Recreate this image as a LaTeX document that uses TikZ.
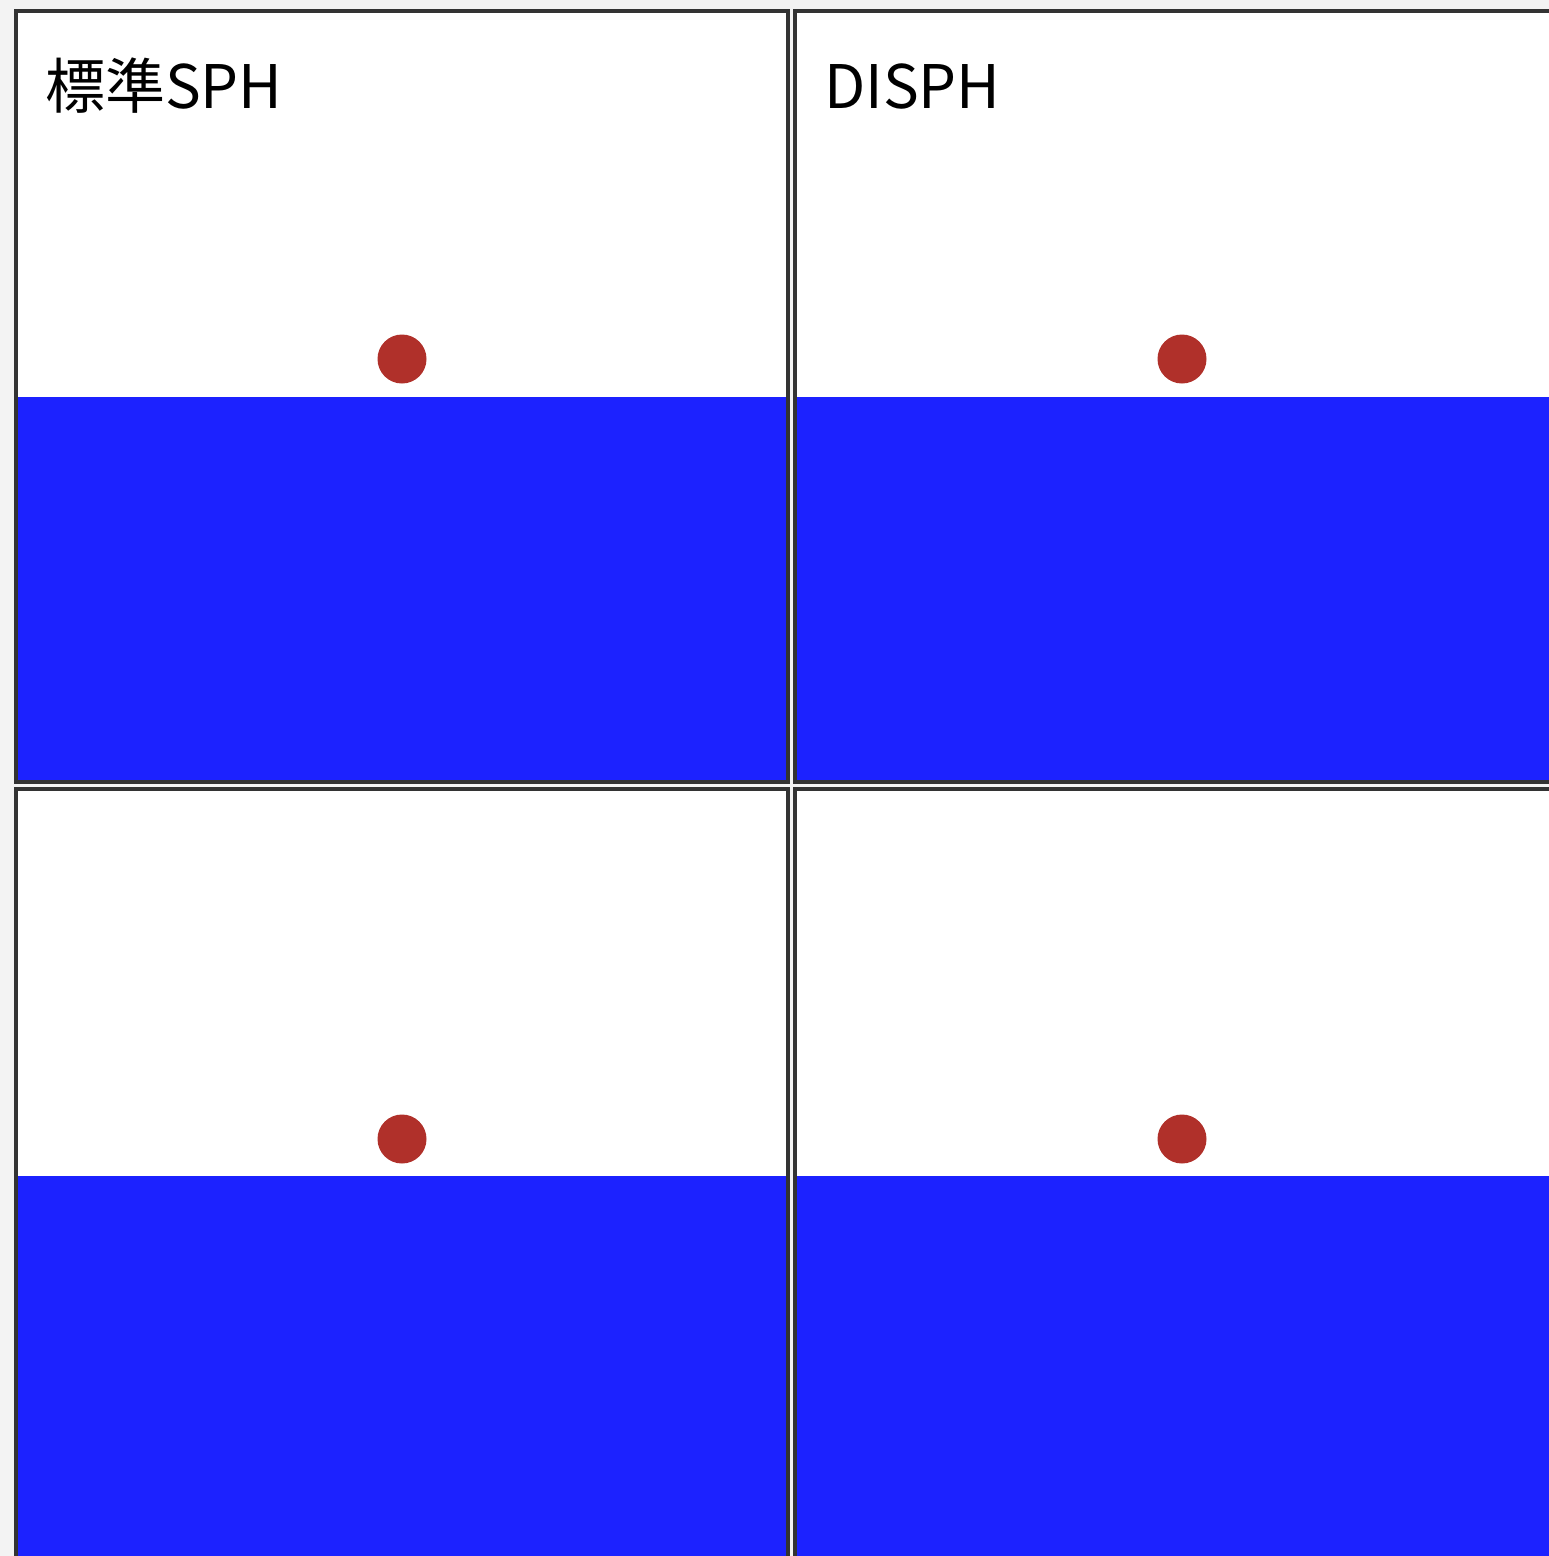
\documentclass[tikz,border=0pt]{standalone}
\usepackage{fontspec}
\newfontfamily\cjk{Noto Sans CJK JP}
\definecolor{bgc}{HTML}{F3F3F3}
\definecolor{water}{HTML}{1C22FF}
\definecolor{ball}{HTML}{B0302A}
\definecolor{frame}{HTML}{333333}
\begin{document}
\begin{tikzpicture}[x=1pt,y=-1pt,
  panelframe/.style={draw=frame,line width=4pt},
  ballstyle/.style={circle,fill=ball,minimum size=49pt,inner sep=0pt},
  titlestyle/.style={anchor=base west,inner sep=0pt,font=\cjk\fontsize{60}{60}\selectfont}]
\fill[bgc] (0,0) rectangle (1549,1556);
\useasboundingbox (0,0) rectangle (1549,1556);
% panels: (left, top, right, bottom, water)
\foreach \l/\t/\r/\b/\w in {16/10.5/788/781.5/397, 795/10.5/1560/781.5/397, 16/789/788/1570/1176, 795/789/1560/1570/1176}{
  \fill[white] (\l,\t) rectangle (\r,\b);
  \fill[water] (\l,\w) rectangle (\r,\b);
  \draw[panelframe] (\l,\t) rectangle (\r,\b);
}
\node[ballstyle] (b1) at (402,359) {};
\node[ballstyle] (b2) at (1182,359) {};
\node[ballstyle] (b3) at (402,1139) {};
\node[ballstyle] (b4) at (1182,1139) {};
\node[titlestyle] (t1) at (45,108) {標準SPH};
\node[titlestyle] (t2) at (824,108) {DISPH};
\end{tikzpicture}
\end{document}
